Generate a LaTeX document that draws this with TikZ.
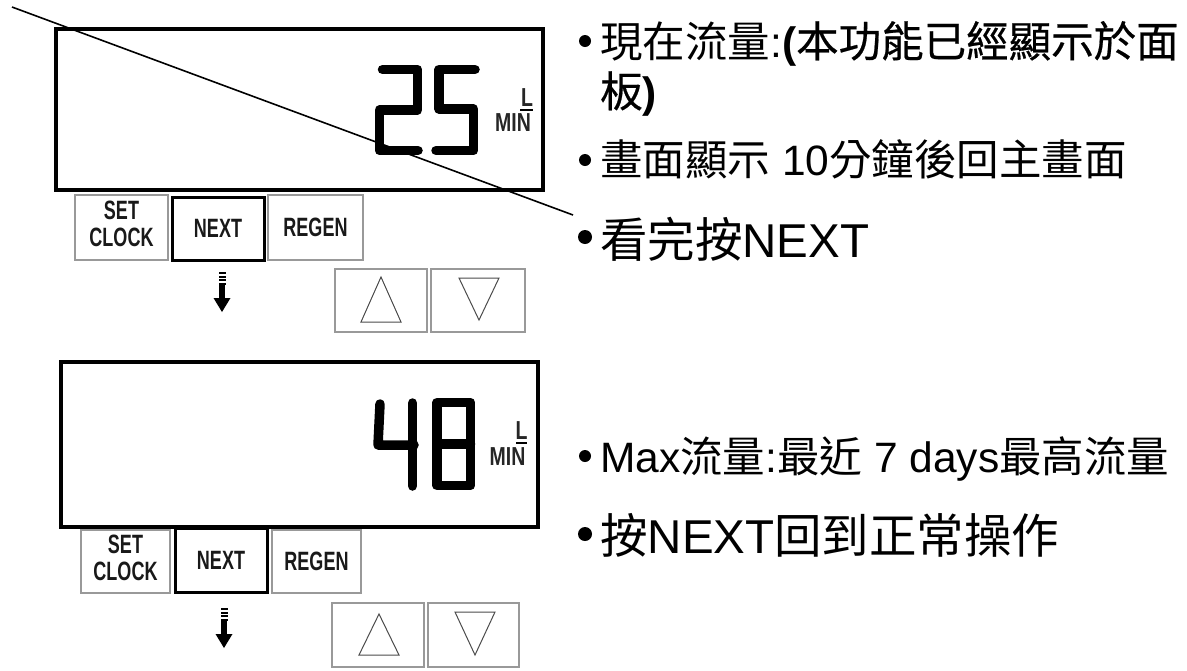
\documentclass[tikz,border=0pt]{standalone}
\usepackage{fontspec}
\setmainfont{Liberation Sans}
\newfontfamily\cjk{Noto Sans CJK TC}
\newfontfamily\cjkb{Noto Sans CJK TC}[FakeBold=0.5]
\tikzset{
  display/.style={draw=black, line width=3.5, fill=white},
  keybox/.style={draw=black!40, line width=1.2, inner sep=0pt, text=black!90,
    font=\bfseries\fontsize{26.5}{27.5}\selectfont},
  keyactive/.style={draw=black, line width=3, inner sep=0pt, text=black!90,
    font=\bfseries\fontsize{26.5}{27.5}\selectfont},
  arrowkey/.style={draw=black!40, line width=1.2},
  tri/.style={draw=black!70, line width=1},
  seg/.style={line width=9.5, line cap=round, line join=round},
  unitlbl/.style={font=\bfseries\fontsize{26}{26}\selectfont, inner sep=0pt, text=black!85},
  txt/.style={anchor=base west, inner sep=0pt},
  bigtxt/.style={font=\fontsize{47.5}{55}\selectfont},
  midtxt/.style={font=\fontsize{42.5}{50}\selectfont},
  downarr/.pic={
    \foreach \d in {0,3.6,7.2,10.8} \fill (-3.5,\d) rectangle (3.5,\d+1.9);
    \fill (-3,12.5) rectangle (3,27);
    \fill (-8.5,26) -- (8.5,26) -- (0,40) -- cycle;
  }
}
\begin{document}
\begin{tikzpicture}[x=1pt,y=-1pt]
\path[fill=white, use as bounding box] (0,0) rectangle (1187,670);

% ---------- top panel ----------
\draw[display] (56,29) rectangle (543,190);
% digits 25
\draw[seg] (382.5,69.5) -- (417.5,69.5) -- (417.5,110) -- (379.5,110) -- (379.5,150.5) -- (418,150.5);
\draw[seg] (475,69.5) -- (439,69.5) -- (439,109) -- (473.5,109) -- (473.5,150.5) -- (436,150.5);
\node[unitlbl] (tL) at (527,97.5) {\scalebox{0.75}[1]{L}};
\draw[line width=1.5] (520,110) -- (533,110);
\node[unitlbl] (tMIN) at (513,123) {\scalebox{0.75}[1]{MIN}};
% keys
\node[keybox, minimum width=93, minimum height=65] (tset) at (121.5,227.5)
  {\scalebox{0.68}[1]{\begin{tabular}{@{}c@{}}SET\\CLOCK\end{tabular}}};
\node[keyactive, minimum width=92, minimum height=63] (tnext) at (218,228.5)
  {\scalebox{0.68}[1]{NEXT}};
\node[keybox, minimum width=95, minimum height=65] (tregen) at (315.5,227.5)
  {\scalebox{0.68}[1]{REGEN}};
\pic at (222,272) {downarr};
\node[arrowkey, minimum width=92, minimum height=63, inner sep=0pt] (tup) at (381,300.5) {};
\node[arrowkey, minimum width=94, minimum height=63, inner sep=0pt] (tdown) at (478,300.5) {};
\draw[tri] (381,277) -- (401,322) -- (361,322) -- cycle;
\draw[tri] (459,278) -- (499,278) -- (479,320) -- cycle;

% ---------- bottom panel ----------
\draw[display] (61,362) rectangle (538,527);
% digits 48
\draw[seg] (380,404) -- (378,445) -- (414,445);
\draw[seg] (412.5,403) -- (412.5,486);
\draw[seg] (437,402.5) rectangle (470.5,485.5);
\draw[seg] (437,444) -- (470.5,444);
\node[unitlbl] (bL) at (521.5,431) {\scalebox{0.75}[1]{L}};
\draw[line width=1.5] (516,443) -- (527,443);
\node[unitlbl] (bMIN) at (507.5,457) {\scalebox{0.75}[1]{MIN}};
% keys
\node[keybox, minimum width=89, minimum height=63] (bset) at (125.5,561.5)
  {\scalebox{0.68}[1]{\begin{tabular}{@{}c@{}}SET\\CLOCK\end{tabular}}};
\node[keyactive, minimum width=92, minimum height=64] (bnext) at (221,560)
  {\scalebox{0.68}[1]{NEXT}};
\node[keybox, minimum width=89, minimum height=63] (bregen) at (316.5,561.5)
  {\scalebox{0.68}[1]{REGEN}};
\pic at (224,608) {downarr};
\node[arrowkey, minimum width=92, minimum height=64, inner sep=0pt] (bup) at (378,635) {};
\node[arrowkey, minimum width=91, minimum height=64, inner sep=0pt] (bdown) at (473.5,635) {};
\draw[tri] (379,614) -- (399,655) -- (359,655) -- cycle;
\draw[tri] (455,612) -- (495,612) -- (475,655) -- cycle;

% ---------- bullets and text ----------
\fill (585,41) circle (6);
\fill (585,160) circle (6);
\fill (585,237) circle (7);
\fill (585,456) circle (6);
\fill (585,534) circle (7);

\node[txt, midtxt] (l1) at (600,57) {{\cjk 現在流量}:\textbf{(}{\cjkb 本功能已經顯示於面}};
\node[txt, midtxt] (l1b) at (600,107) {{\cjkb 板}\textbf{)}};
\node[txt, midtxt] (l2) at (600,175) {{\cjk 畫面顯示} 10{\cjk 分鐘後回主畫面}};
\node[txt, bigtxt] (l3) at (600,257) {{\cjk 看完按}NEXT};
\node[txt, midtxt] (l4) at (600,472) {Max{\cjk 流量}:{\cjk 最近} 7 days{\cjk 最高流量}};
\node[txt, bigtxt] (l5) at (600,553) {{\cjk 按}NEXT{\cjk 回到正常操作}};

% ---------- diagonal line ----------
\coordinate (ls) at (12,7);
\coordinate (le) at (573,215);
\draw[line width=1.6] (ls) -- (le);
\end{tikzpicture}
\end{document}
